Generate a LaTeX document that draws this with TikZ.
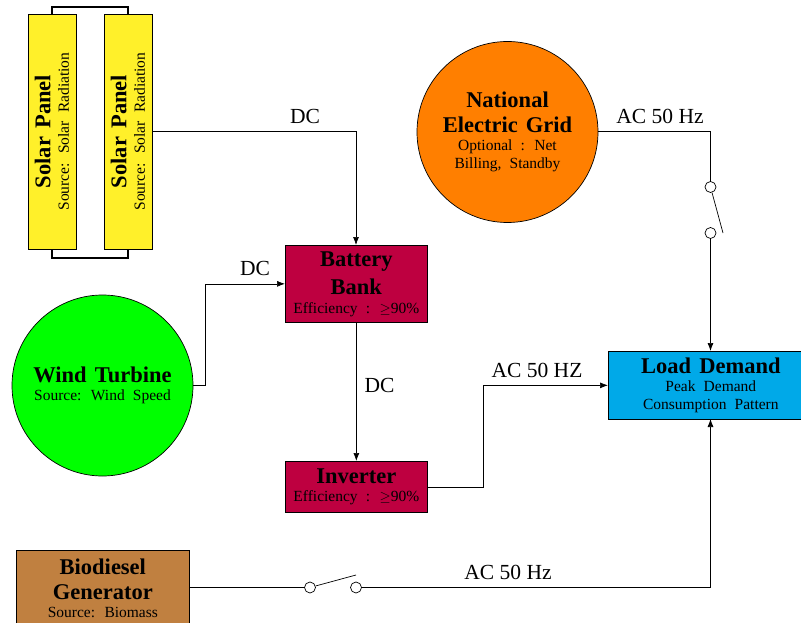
\documentclass[tikz,border=0pt]{standalone}
\usepackage{fontspec}
\setmainfont{Liberation Serif}
\newfontfamily\unitfont[WordSpace=1.9]{Liberation Serif}
\newfontfamily\titlefont[WordSpace=1.45]{Liberation Serif}
\usetikzlibrary{arrows.meta,positioning}
\definecolor{PanelYellow}{HTML}{FFF02A}
\definecolor{GridOrange}{HTML}{FF7F00}
\definecolor{WindGreen}{HTML}{00FF00}
\definecolor{BatteryRed}{HTML}{BE0040}
\definecolor{LoadBlue}{HTML}{00A9E8}
\definecolor{DieselBrown}{HTML}{C08040}
\tikzset{
	unit/.style={draw=black, line width=0.7pt, align=center, inner sep=0pt, font=\unitfont\fontsize{15.5}{18}\selectfont},
	boxunit/.style={unit, rectangle, anchor=north west},
	roundunit/.style={unit, circle, minimum size=181pt},
	contact/.style={draw=black, fill=white, circle, inner sep=0pt, minimum size=11pt, line width=0.7pt},
	wire/.style={line width=0.7pt},
	flow/.style={wire, -{Latex[length=8pt,width=6pt]}},
	flowlabel/.style={font=\fontsize{21.5}{24}\selectfont, inner sep=0pt},
}
\newcommand{\unittitle}[1]{{\titlefont\fontsize{22.5}{26}\selectfont\bfseries #1}}
\begin{document}
\begin{tikzpicture}[x=1pt, y=-1pt]
	\useasboundingbox (0,0) rectangle (801,623);

	% Panel link
	\coordinate (linktopa) at (52,14);
	\coordinate (linktopb) at (128,14);
	\coordinate (linkbota) at (52,249);
	\coordinate (linkbotb) at (128,249);
	\draw[line width=1.5pt] (linktopa) -- ++(0,-7) -| (linktopb);
	\draw[line width=1.5pt] (linkbota) -- ++(0,9) -| (linkbotb);

	% Sources
	\node[unit, rectangle, fill=PanelYellow, minimum width=235pt, minimum height=48pt, rotate=90] (solara) at (52,131.5)
		{\unittitle{Solar Panel}\\[0.5pt]Source: Solar Radiation};
	\node[unit, rectangle, fill=PanelYellow, minimum width=235pt, minimum height=48pt, rotate=90] (solarb) at (128,131.5)
		{\unittitle{Solar Panel}\\[0.5pt]Source: Solar Radiation};
	\node[roundunit, fill=WindGreen] (wind) at (102.5,385.5)
		{\unittitle{Wind Turbine}\\[0.5pt]Source: Wind Speed};
	\node[roundunit, fill=GridOrange] (grid) at (507.5,132)
		{\unittitle{National}\\[7pt]\unittitle{Electric Grid}\\[0.5pt]Optional : Net\\Billing, Standby};
	\node[boxunit, fill=DieselBrown, minimum width=173pt, minimum height=76pt] (diesel) at (16,550)
		{\unittitle{Biodiesel}\\[7pt]\unittitle{Generator}\\[0.5pt]Source: Biomass};

	% Conversion and load
	\node[boxunit, fill=BatteryRed, minimum width=142pt, minimum height=77pt] (battery) at (285,245)
		{\unittitle{Battery}\\[7pt]\unittitle{Bank}\\[0.5pt]Efficiency : $\geq$90\%};
	\node[boxunit, fill=BatteryRed, minimum width=142pt, minimum height=51pt] (inverter) at (285,461)
		{\unittitle{Inverter}\\[0.5pt]Efficiency : $\geq$90\%};
	\node[boxunit, fill=LoadBlue, minimum width=205pt, minimum height=68pt] (load) at (608,351)
		{\unittitle{Load Demand}\\[0.5pt]Peak Demand\\Consumption Pattern};

	% Switches
	\node[contact] (gridup) at (710.5,187) {};
	\node[contact] (griddown) at (710.5,233) {};
	\node[contact] (dieselleft) at (310,587.5) {};
	\node[contact] (dieselright) at (356,587.5) {};
	\coordinate (gridblade) at (723,233);
	\coordinate (dieselblade) at (356,575);
	\draw[wire] (gridup) -- (gridblade);
	\draw[wire] (dieselleft) -- (dieselblade);

	% Connections
	\draw[flow] (solarb.south |- 152,131.5) -- (356,131.5) -- (battery.north -| 356,0);
	\draw[flow] (wind.east) -- (205,385.5) |- (battery.west);
	\draw[flow] (battery.south) -- (inverter.north);
	\draw[flow] (inverter.east) -- (inverter.east -| 483,0) |- (load.west);
	\draw[wire] (grid.east |- 0,131.5) -- (710.5,131.5) -- (gridup);
	\draw[flow] (griddown) -- (griddown |- load.north);
	\draw[wire] (diesel.east |- 0,587.5) -- (dieselleft);
	\draw[flow] (dieselright) -- (710.5,587.5) -- (710.5,419);

	% Labels
	\node[flowlabel] (dcsolar) at (305,116) {DC};
	\node[flowlabel] (dcwind) at (255,268.5) {DC};
	\node[flowlabel] (dcbank) at (379.5,385) {DC};
	\node[flowlabel] (acgrid) at (660,116.5) {AC 50 Hz};
	\node[flowlabel] (acinv) at (537,370.5) {AC 50 HZ};
	\node[flowlabel] (acdiesel) at (508,572.5) {AC 50 Hz};
\end{tikzpicture}
\end{document}
